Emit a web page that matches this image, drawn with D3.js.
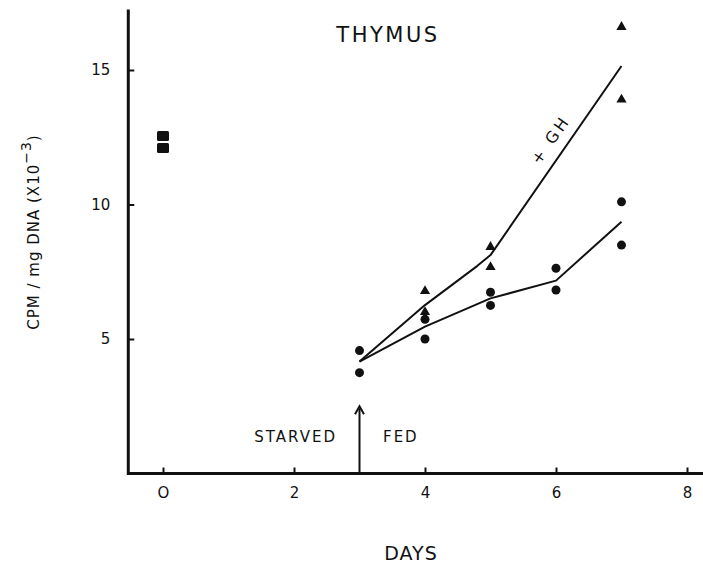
<!DOCTYPE html>
<meta charset="utf-8">
<style>
  body { margin: 0; padding: 0; background: #fff; }
  svg text { font-family: "DejaVu Sans", sans-serif; fill: #111; }
  .axis path, .axis line { stroke: #111; }
  .axis text { font-size: 15px; }
  .fit { fill: none; stroke: #111; stroke-width: 2; stroke-linejoin: round; }
</style>
<body>
<script src="https://d3js.org/d3.v7.min.js"></script>
<script>

// starved controls (day 0)
var starvedDays = [0, 0];
var starvedVals = [12.55, 12.1];

// fed, no hormone
var fedDays = [3, 3, 4, 4, 5, 5, 6, 6, 7, 7];
var fedVals = [4.57, 3.75, 5.73, 5.0, 6.74, 6.25, 7.63, 6.82, 10.1, 8.49];

// fed + GH
var ghDays = [4, 4, 5, 5, 7, 7];
var ghVals = [6.78, 6.0, 8.42, 7.67, 16.6, 13.9];

// drawn curves
var fedLineDays = [3, 4, 5, 6, 7];
var fedLineVals = [4.16, 5.46, 6.51, 7.17, 9.36];
var ghLineDays = [3, 4, 4.8, 5, 7];
var ghLineVals = [4.16, 6.26, 7.72, 8.12, 15.15];

var xTicks = [0, 2, 4, 6, 8];
var yTicks = [5, 10, 15];

var width = 703, height = 567;

var svg = d3.select("body").append("svg")
    .attr("width", width)
    .attr("height", height);

var x = d3.scaleLinear().domain([0, 8]).range([163, 687]);
var y = d3.scaleLinear().domain([0, 15]).range([473.5, 70]);

// axes
var xAxis = svg.append("g")
    .attr("class", "axis")
    .attr("transform", "translate(0," + y(0) + ")")
    .call(d3.axisBottom(x).tickValues(xTicks).tickSize(-6).tickPadding(14)
      .tickFormat(function(d) { return d === 0 ? "O" : d; }));
xAxis.select(".domain").remove();
xAxis.selectAll("line").attr("stroke-width", 2);
svg.append("line")
    .attr("x1", x(-0.54)).attr("x2", width)
    .attr("y1", y(0)).attr("y2", y(0))
    .attr("stroke", "#111").attr("stroke-width", 3);

var yAxis = svg.append("g")
    .attr("class", "axis")
    .attr("transform", "translate(" + x(-0.53) + ",0)")
    .call(d3.axisLeft(y).tickValues(yTicks).tickSize(-6).tickPadding(18));
yAxis.select(".domain").remove();
yAxis.selectAll("line").attr("stroke-width", 2);
svg.append("line")
    .attr("x1", x(-0.53)).attr("x2", x(-0.53))
    .attr("y1", y(17.25)).attr("y2", y(0) + 1.5)
    .attr("stroke", "#111").attr("stroke-width", 3);

// fitted curves
var line = d3.line().x(function(d) { return x(d[0]); }).y(function(d) { return y(d[1]); });
svg.append("path").attr("class", "fit")
    .attr("d", line(d3.zip(fedLineDays, fedLineVals)));
svg.append("path").attr("class", "fit")
    .attr("d", line(d3.zip(ghLineDays, ghLineVals)));

// markers
svg.selectAll(".sq").data(d3.zip(starvedDays, starvedVals)).enter().append("rect")
    .attr("x", function(d) { return x(d[0]) - 6; })
    .attr("y", function(d) { return y(d[1]) - 5; })
    .attr("width", 12).attr("height", 10).attr("rx", 1.5)
    .attr("fill", "#111");

svg.selectAll(".dot").data(d3.zip(fedDays, fedVals)).enter().append("circle")
    .attr("cx", function(d) { return x(d[0]); })
    .attr("cy", function(d) { return y(d[1]); })
    .attr("r", 4.5).attr("fill", "#111");

var tri = d3.symbol().type(d3.symbolTriangle).size(45);
svg.selectAll(".tri").data(d3.zip(ghDays, ghVals)).enter().append("path")
    .attr("d", tri)
    .attr("transform", function(d) { return "translate(" + x(d[0]) + "," + y(d[1]) + ")"; })
    .attr("fill", "#111");

// feeding arrow
var ax = x(3);
svg.append("line")
    .attr("x1", ax).attr("x2", ax)
    .attr("y1", y(0)).attr("y2", y(2.42))
    .attr("stroke", "#111").attr("stroke-width", 2);
svg.append("path")
    .attr("d", "M" + (ax - 4.5) + "," + (y(2.5) + 8) + "L" + ax + "," + y(2.5) + "L" + (ax + 4.5) + "," + (y(2.5) + 8))
    .attr("fill", "none").attr("stroke", "#111").attr("stroke-width", 2);

// texts
svg.append("text").attr("x", 388).attr("y", 42).attr("text-anchor", "middle")
    .style("font-size", "21px").style("letter-spacing", "2.5px").text("THYMUS");

svg.append("text").attr("x", 337).attr("y", 442).attr("text-anchor", "end")
    .style("font-size", "15px").style("letter-spacing", "2px").text("STARVED");
svg.append("text").attr("x", 383).attr("y", 442)
    .style("font-size", "15px").style("letter-spacing", "2px").text("FED");

svg.append("text").attr("x", 411).attr("y", 560).attr("text-anchor", "middle")
    .style("font-size", "19px").style("letter-spacing", "1px").text("DAYS");

svg.append("text")
    .attr("transform", "translate(555,143) rotate(-55)")
    .attr("text-anchor", "middle")
    .style("font-size", "16px").style("letter-spacing", "3px").text("+ GH");

var yl = svg.append("text")
    .attr("transform", "translate(39,232) rotate(-90)")
    .attr("text-anchor", "middle")
    .style("font-size", "15px").style("letter-spacing", "1px");
yl.append("tspan").text("CPM / mg DNA (X10");
yl.append("tspan").attr("dy", -8).style("font-size", "14px").text("−3");
yl.append("tspan").attr("dy", 8).text(")");

</script>
